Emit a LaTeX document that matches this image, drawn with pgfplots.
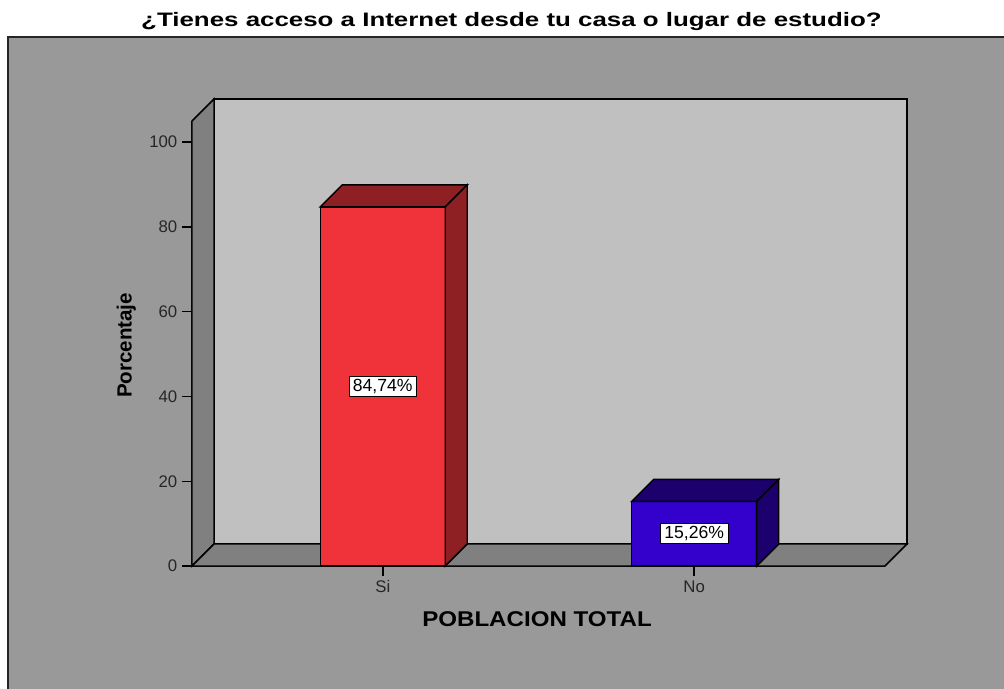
\documentclass[border=0pt]{standalone}
\usepackage{fontspec}
\setmainfont{Liberation Sans}
\usepackage{graphicx}
\usepackage{pgfplots}
\pgfplotsset{compat=1.18}

\definecolor{outergray}{RGB}{153,153,153}
\definecolor{backwall}{RGB}{192,192,192}
\definecolor{sidewall}{RGB}{128,128,128}
\definecolor{redfront}{RGB}{240,50,58}
\definecolor{redside}{RGB}{142,31,34}
\definecolor{bluefront}{RGB}{51,0,204}
\definecolor{blueside}{RGB}{28,0,110}

\begin{document}
\begin{tikzpicture}
\useasboundingbox (-144pt,-92.25pt) rectangle (609pt,424.5pt);
\fill[white] (-144pt,-92.25pt) rectangle (609pt,424.5pt);
\fill[outergray] (-138pt,-92.25pt) rectangle (609pt,396.75pt);
\draw[line width=1.2pt, black!85] (-138pt,-93pt) -- (-138pt,396.75pt) -- (610pt,396.75pt);
\node[anchor=base, inner sep=0pt, font=\bfseries\fontsize{14.6}{16}\selectfont] at (239.6pt,404.5pt)
  {\scalebox{1.33}[1]{¿Tienes acceso a Internet desde tu casa o lugar de estudio?}};
\node[anchor=base, inner sep=0pt, font=\bfseries\fontsize{16}{18}\selectfont] at (258.75pt,-45.5pt)
  {\scalebox{1.13}[1]{POBLACION TOTAL}};
\node[anchor=base, rotate=90, inner sep=0pt, font=\bfseries\fontsize{15.4}{17}\selectfont] at (-45.2pt,165.4pt)
  {Porcentaje};

\begin{axis}[
  at={(0,0)}, anchor=south west,
  scale only axis, width=519.75pt, height=333.75pt,
  xmin=-0.6125, xmax=1.6125, ymin=0, ymax=105,
  clip=false,
  axis lines*=left, axis line style={-, line width=1.1pt, black},
  tick align=outside, major tick length=7.5pt,
  tick style={line width=1.1pt, black},
  xtick={0,1}, xticklabels={Si,No},
  ytick={0,20,40,60,80,100},
  minor tick num=0,
  ticklabel style={font=\fontsize{12.6}{14}\selectfont, text=black!85},
  /pgf/number format/assume math mode=true,
]
% 3D walls (decoration)
\filldraw[fill=backwall, draw=black, line width=1.1pt] (axis cs:-0.5419,5.19) rectangle (axis cs:1.6831,110.19);
\filldraw[fill=sidewall, draw=black, line width=1.1pt] (axis cs:-0.6125,0) -- (axis cs:-0.5419,5.19) -- (axis cs:-0.5419,110.19) -- (axis cs:-0.6125,105) -- cycle;
\filldraw[fill=sidewall, draw=black, line width=1.1pt] (axis cs:-0.6125,0) -- (axis cs:1.6125,0) -- (axis cs:1.6831,5.19) -- (axis cs:-0.5419,5.19) -- cycle;

% Si bar
\addplot[ybar, bar width=0.4013, bar shift=0, fill=redfront, draw=black, line width=1.1pt] coordinates {(0,84.74)};
\addplot[fill=redside, draw=black, line width=1.1pt, mark=none] coordinates {(-0.20065,84.74) (0.20065,84.74) (0.27128,89.93) (-0.13002,89.93)} -- cycle;
\addplot[fill=redside, draw=black, line width=1.1pt, mark=none] coordinates {(0.20065,0) (0.27128,5.19) (0.27128,89.93) (0.20065,84.74)} -- cycle;
% No bar
\addplot[ybar, bar width=0.4013, bar shift=0, fill=bluefront, draw=black, line width=1.1pt] coordinates {(1,15.26)};
\addplot[fill=blueside, draw=black, line width=1.1pt, mark=none] coordinates {(0.79935,15.26) (1.20065,15.26) (1.27128,20.45) (0.86998,20.45)} -- cycle;
\addplot[fill=blueside, draw=black, line width=1.1pt, mark=none] coordinates {(1.20065,0) (1.27128,5.19) (1.27128,20.45) (1.20065,15.26)} -- cycle;

% value labels
\node[fill=white, draw=black, line width=0.6pt, inner xsep=3pt, inner ysep=2.2pt, font=\fontsize{13.2}{15}\selectfont] at (axis cs:0,42.37) {84,74\%};
\node[fill=white, draw=black, line width=0.6pt, inner xsep=3pt, inner ysep=2.2pt, font=\fontsize{13.2}{15}\selectfont] at (axis cs:1,7.63) {15,26\%};
\end{axis}
\end{tikzpicture}
\end{document}
